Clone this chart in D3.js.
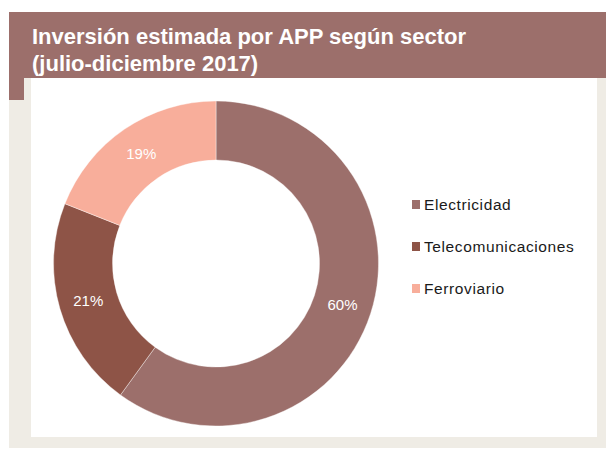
<!DOCTYPE html>
<html>
<head>
<meta charset="utf-8">
<script src="https://cdn.jsdelivr.net/npm/d3@7"></script>
<style>
  body { margin: 0; background: #ffffff; }
  svg text { font-family: "Liberation Sans", Arial, sans-serif; }
</style>
</head>
<body>
<div id="chart"></div>
<script>
// data
var sectors = ["Electricidad", "Telecomunicaciones", "Ferroviario"];
var shares = [60, 21, 19];
var colors = ["#9c6f6b", "#8e5447", "#f8ae9b"];
var titleLines = ["Inversión estimada por APP según sector", "(julio-diciembre 2017)"];

var width = 606, height = 449;

var svg = d3.select("#chart")
  .append("svg")
  .attr("width", width)
  .attr("height", height);

// beige frame
svg.append("rect")
  .attr("x", 9).attr("y", 12)
  .attr("width", width - 9).attr("height", 436)
  .attr("fill", "#efece5");

// white panel
svg.append("rect")
  .attr("x", 31).attr("y", 78)
  .attr("width", 566).attr("height", 359)
  .attr("fill", "#ffffff");

// title bar + small tab on the left
svg.append("rect")
  .attr("x", 9).attr("y", 12)
  .attr("width", width - 9).attr("height", 66)
  .attr("fill", "#9c6f6b");
svg.append("rect")
  .attr("x", 9).attr("y", 77)
  .attr("width", 15).attr("height", 23)
  .attr("fill", "#9c6f6b");

svg.selectAll(".title")
  .data(titleLines)
  .enter()
  .append("text")
  .attr("class", "title")
  .attr("x", 32)
  .attr("y", function (d, i) { return 44 + i * 27; })
  .attr("fill", "#ffffff")
  .attr("font-size", "22px")
  .attr("font-weight", "bold")
  .text(function (d) { return d; });

// donut
var cx = 216, cy = 263.5, rOuter = 162.5, rInner = 103.5;

var pie = d3.pie().sort(null).value(function (d) { return d; });
var arc = d3.arc().innerRadius(rInner).outerRadius(rOuter);
var arcs = pie(shares);

var g = svg.append("g")
  .attr("transform", "translate(" + cx + "," + cy + ")");

g.selectAll("path")
  .data(arcs)
  .enter()
  .append("path")
  .attr("d", arc)
  .attr("fill", function (d, i) { return colors[i]; })
  .attr("stroke", "#ffffff")
  .attr("stroke-width", 0.4);

g.selectAll(".lbl")
  .data(arcs)
  .enter()
  .append("text")
  .attr("class", "lbl")
  .attr("transform", function (d) { return "translate(" + arc.centroid(d) + ")"; })
  .attr("text-anchor", "middle")
  .attr("dy", "0.35em")
  .attr("fill", "#ffffff")
  .attr("font-size", "15px")
  .text(function (d) { return d.data + "%"; });

// legend
var legend = svg.selectAll(".leg")
  .data(sectors)
  .enter()
  .append("g")
  .attr("class", "leg")
  .attr("transform", function (d, i) { return "translate(412," + (210 + i * 42) + ")"; });

legend.append("rect")
  .attr("x", 0).attr("y", -10)
  .attr("width", 8).attr("height", 9)
  .attr("fill", function (d, i) { return colors[i]; });

legend.append("text")
  .attr("x", 12)
  .attr("y", 0)
  .attr("fill", "#1a1a1a")
  .attr("font-size", "15.5px")
  .attr("letter-spacing", "0.6px")
  .text(function (d) { return d; });
</script>
</body>
</html>
